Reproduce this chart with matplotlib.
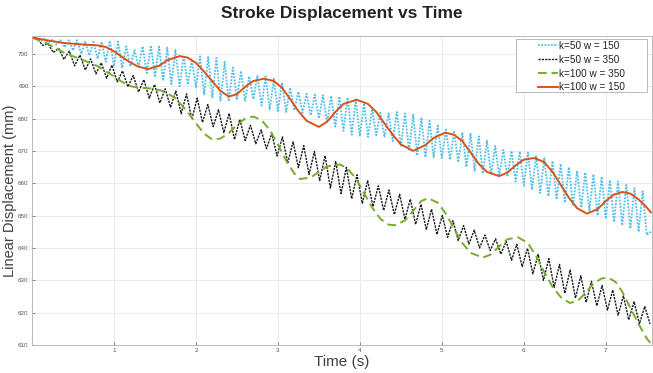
import numpy as np
import matplotlib
matplotlib.use("Agg")
import matplotlib.pyplot as plt
from matplotlib.patches import Rectangle

plt.rcParams['font.family'] = ['Liberation Sans', 'DejaVu Sans']

title = "Stroke Displacement vs Time"
xlabel = "Time (s)"
ylabel = "Linear Displacement (mm)"
labels = ["k=50 w = 150", "k=50 w = 350", "k=100 w = 350", "k=100 w = 150"]
xticks = [1, 2, 3, 4, 5, 6, 7]
yticks = [610, 620, 630, 640, 650, 660, 670, 680, 690, 700]

# k=50 w=150 : vertices every 0.05 s
blue_t_step = 0.05
blue_y = [705.0, 704.9, 704.0, 704.6, 703.4, 704.3, 702.8, 704.2, 702.0, 704.2,
          701.0, 704.2, 700.0, 703.7, 699.5, 703.7, 698.5, 703.7, 697.5, 704.0,
          696.2, 703.8, 695.6, 702.3, 696.0, 701.2, 696.0, 702.3, 694.0, 702.6,
          692.8, 702.2, 691.6, 701.9, 690.6, 701.2, 690.0, 699.5, 690.5, 698.3,
          689.5, 699.2, 687.5, 699.0, 686.5, 698.7, 685.5, 697.5, 685.3, 695.8,
          686.0, 694.7, 685.5, 693.0, 686.0, 693.2, 684.0, 693.0, 682.8, 692.3,
          682.3, 691.1, 682.0, 689.5, 682.5, 688.3, 681.8, 687.6, 681.0, 687.4,
          680.0, 687.2, 678.8, 687.0, 677.5, 686.8, 676.2, 686.5, 675.0, 685.9,
          674.5, 684.7, 674.3, 683.0, 674.8, 681.8, 674.2, 681.6, 673.0, 682.0,
          671.3, 681.6, 670.0, 681.2, 668.5, 680.3, 668.0, 679.3, 668.0, 677.8,
          667.8, 676.6, 667.3, 675.9, 666.5, 675.7, 665.0, 675.3, 663.8, 674.5,
          663.0, 673.2, 662.7, 671.5, 662.5, 670.3, 662.0, 670.0, 660.5, 669.8,
          659.3, 669.5, 658.0, 668.6, 657.0, 667.8, 656.0, 666.9, 655.0, 666.0,
          654.0, 665.0, 653.0, 663.8, 652.5, 663.3, 651.5, 662.8, 650.0, 662.0,
          649.0, 661.0, 648.0, 660.6, 647.0, 659.5, 646.0, 658.5, 645.0, 657.5,
          644.0, 645.0]

# k=50 w=350 : vertices every 0.065 s
black_t_step = 0.065
black_y = [705.0, 704.7, 702.6, 703.1, 700.4, 701.7, 698.3, 700.9, 696.3, 699.6,
           695.0, 698.4, 693.8, 697.2, 692.5, 696.5, 691.3, 694.7, 689.8, 693.3,
           688.2, 692.0, 686.3, 690.5, 684.8, 689.2, 683.5, 688.5, 681.5, 687.6,
           679.8, 686.3, 678.8, 684.3, 677.5, 682.7, 675.6, 681.6, 673.5, 679.7,
           673.2, 677.9, 672.2, 676.5, 670.7, 675.4, 668.4, 674.3, 666.3, 672.8,
           664.8, 671.6, 662.7, 669.8, 660.8, 668.5, 658.5, 666.7, 656.8, 664.9,
           655.2, 662.6, 653.8, 660.8, 652.8, 659.2, 651.6, 657.9, 650.3, 656.6,
           648.9, 655.1, 647.3, 653.5, 645.7, 652.0, 644.2, 650.0, 643.3, 648.4,
           642.3, 646.9, 641.2, 645.5, 640.0, 644.0, 639.2, 642.8, 638.1, 642.1,
           636.2, 641.1, 634.2, 639.9, 632.0, 638.0, 630.0, 636.7, 627.8, 634.9,
           626.0, 633.2, 624.5, 631.4, 623.2, 629.7, 622.1, 628.4, 620.8, 627.0,
           619.2, 625.2, 617.8, 623.4, 616.5, 621.9, 616.5]

# k=100 w=350
green_t = [0, 0.2, 0.4, 0.6, 0.8, 1.0, 1.1, 1.2, 1.3, 1.45, 1.6, 1.75, 1.9, 2.0,
           2.1, 2.2, 2.3, 2.4, 2.5, 2.6, 2.7, 2.8, 2.9, 3.0, 3.1, 3.2, 3.27, 3.4,
           3.5, 3.6, 3.76, 3.85, 3.95, 4.05, 4.15, 4.25, 4.35, 4.43, 4.55, 4.65,
           4.75, 4.83, 4.95, 5.05, 5.15, 5.25, 5.35, 5.5, 5.6, 5.7, 5.8, 5.93,
           6.05, 6.15, 6.25, 6.35, 6.45, 6.56, 6.65, 6.75, 6.85, 6.95, 7.03, 7.12,
           7.2, 7.3, 7.4, 7.5, 7.55]
green_y = [705.0, 703.0, 700.2, 698.3, 696.2, 693.0, 691.3, 690.0, 689.5, 689.3,
           688.5, 686.3, 682.0, 678.5, 675.3, 673.5, 673.8, 675.5, 678.0, 680.0,
           680.6, 679.5, 676.5, 672.0, 667.0, 663.0, 661.3, 661.8, 663.5, 665.2,
           665.8, 664.5, 661.5, 657.0, 652.5, 649.0, 647.2, 647.0, 648.5, 651.5,
           654.5, 655.4, 654.0, 650.5, 646.0, 641.5, 638.5, 637.0, 638.0, 640.5,
           642.7, 643.3, 641.5, 637.5, 632.5, 628.0, 624.8, 623.0, 623.5, 626.0,
           629.0, 630.6, 630.8, 629.5, 626.5, 621.5, 616.5, 612.0, 610.5]

# k=100 w=150
orange_t = [0, 0.2, 0.4, 0.6, 0.8, 0.9, 1.0, 1.1, 1.2, 1.3, 1.42, 1.55, 1.65, 1.8,
            1.9, 2.0, 2.1, 2.2, 2.3, 2.4, 2.5, 2.6, 2.7, 2.83, 2.95, 3.05, 3.15,
            3.25, 3.35, 3.5, 3.6, 3.7, 3.8, 3.96, 4.1, 4.2, 4.3, 4.4, 4.5, 4.65,
            4.8, 4.9, 5.04, 5.15, 5.25, 5.35, 5.45, 5.55, 5.7, 5.8, 5.9, 6.0,
            6.13, 6.25, 6.35, 6.45, 6.55, 6.65, 6.77, 6.9, 7.0, 7.1, 7.2, 7.3,
            7.4, 7.5, 7.55]
orange_y = [705.0, 704.1, 703.3, 702.9, 702.6, 702.1, 700.8, 699.0, 697.3, 696.0,
            695.3, 696.3, 698.0, 699.3, 698.8, 697.2, 694.5, 691.5, 688.5, 686.8,
            687.5, 689.8, 691.6, 692.3, 691.6, 689.5, 686.0, 682.3, 679.3, 677.4,
            679.0, 682.0, 684.5, 685.8, 684.5, 682.0, 678.5, 675.0, 672.0, 670.0,
            671.8, 674.0, 675.6, 675.0, 673.0, 669.5, 666.0, 663.5, 662.2, 663.3,
            665.5, 667.3, 667.8, 666.5, 663.5, 659.5, 655.5, 652.3, 650.6, 652.0,
            654.5, 656.5, 657.3, 656.8, 655.0, 652.5, 651.0]

blue_t = np.arange(len(blue_y)) * blue_t_step
black_t = np.arange(len(black_y)) * black_t_step

fig = plt.figure(figsize=(6.53, 3.73), dpi=100)
ax = fig.add_axes([0.049, 0.075, 0.949, 0.8285])

ax.plot(blue_t, blue_y, color='#4DBEEE', linestyle=(0, (1, 0.8)), linewidth=1.3, label=labels[0])
ax.plot(black_t, black_y, color='#1a1a1a', linestyle=(0, (1.6, 0.8)), linewidth=1.0, label=labels[1])
ax.plot(green_t, green_y, color='#77AC30', linestyle=(0, (4.5, 2.5)), linewidth=1.4, label=labels[2])
ax.plot(orange_t, orange_y, color='#D95319', linestyle='-', linewidth=1.4, label=labels[3])

ax.set_xlim(0, 7.56)
ax.set_ylim(610, 705.5)
ax.set_xticks(xticks)
ax.set_yticks(yticks)
ax.tick_params(direction='in', length=2.5, width=0.5, labelsize=4.5,
               colors='#555555', pad=2.5)
ax.grid(True, color='#e6e6e6', linewidth=0.6)
ax.set_axisbelow(True)
for s in ax.spines.values():
    s.set_color('#b0b0b0')
    s.set_linewidth(0.6)

ax.set_title(title, fontsize=12.5, fontweight='bold', color='#222222', pad=13)
ax.set_xlabel(xlabel, fontsize=11, color='#404040')
ax.set_ylabel(ylabel, fontsize=10.5, color='#404040')
ax.xaxis.set_label_coords(0.5, -0.031)
ax.yaxis.set_label_coords(-0.024, 0.5)

# MATLAB-style legend box (wide frame with blank margins)
box = Rectangle((0.781, 0.819), 0.211, 0.171, transform=ax.transAxes,
                facecolor='white', edgecolor='#b0b0b0', linewidth=0.6, zorder=4)
ax.add_patch(box)
leg = ax.legend(loc='upper left', bbox_to_anchor=(0.816, 0.984), fontsize=7.2,
                frameon=False, handlelength=2.0, handletextpad=0.1,
                borderaxespad=0.0, borderpad=0.0, labelspacing=0.38)
leg.set_zorder(5)
for t in leg.get_texts():
    t.set_color('#222222')

fig.savefig('out.png', dpi=100)
